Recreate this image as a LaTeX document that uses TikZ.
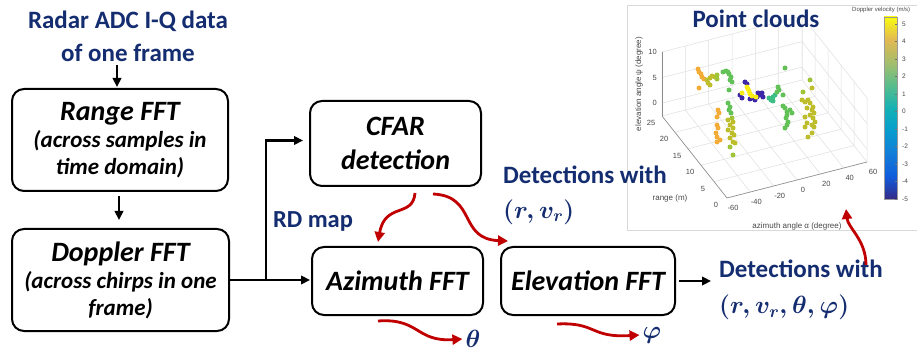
\documentclass[tikz,border=0pt]{standalone}
\usepackage{fontspec}
\setmainfont{Carlito}
\newfontfamily\plotfont{Liberation Sans}
\usetikzlibrary{arrows.meta,calc}

\definecolor{navy}{RGB}{20,44,112}
\definecolor{arrred}{RGB}{192,0,0}
\definecolor{cOr}{RGB}{243,172,56}
\definecolor{cOl}{RGB}{190,190,45}
\definecolor{cYg}{RGB}{160,196,55}
\definecolor{cGr}{RGB}{98,194,88}
\definecolor{cTe}{RGB}{60,190,132}
\definecolor{cBl}{RGB}{62,38,168}
\definecolor{cYe}{RGB}{248,236,20}

% parula-like colour map for the colour bar (path box maps to 25bp..75bp)
\pgfdeclareverticalshading{parula}{100bp}{%
  rgb(0bp)=(0.208,0.165,0.529); rgb(25bp)=(0.208,0.165,0.529);
  rgb(31.25bp)=(0.059,0.361,0.867); rgb(37.5bp)=(0.071,0.490,0.847);
  rgb(43.75bp)=(0.027,0.612,0.812); rgb(50bp)=(0.082,0.694,0.706);
  rgb(56.25bp)=(0.349,0.741,0.549); rgb(62.5bp)=(0.647,0.745,0.420);
  rgb(68.75bp)=(0.882,0.725,0.322); rgb(75bp)=(0.976,0.984,0.055);
  rgb(100bp)=(0.976,0.984,0.055)}

\begin{document}
\begin{tikzpicture}[x=1pt,y=-1pt,
  procbox/.style={draw, line width=2pt, rounded corners=12pt, align=center,
    inner sep=0pt, font=\bfseries\itshape\fontsize{23}{27}\selectfont},
  navytext/.style={text=navy, inner sep=0pt,
    font=\bfseries\boldmath\fontsize{25}{33}\selectfont},
  flow/.style={line width=2.2pt, -{Triangle[length=9pt,width=8.5pt]}},
  redflow/.style={line width=2.8pt, draw=arrred,
    -{Triangle[length=10pt,width=10pt,fill=arrred]}},
  gridline/.style={draw=black!13, line width=0.5pt},
  axisline/.style={draw=black!45, line width=0.6pt},
  tick/.style={font=\plotfont\fontsize{7.5}{9}\selectfont, text=black!72, inner sep=0pt},
  dot/.style={radius=2.5pt},
]
\useasboundingbox (0,0) rectangle (917,352);

% ---------------- point cloud plot ----------------
\begin{scope}
\clip (0,0) rectangle (917,352);
\draw[black!15, line width=0.8pt] (920,5) -- (627,5) -- (627,230) -- (920,230);

% 3D box: x = azimuth (+60 offset), y = range, z = elevation (+2.5 offset)
\begin{scope}[shift={(727,198)}, x={(1.1667pt,0.3pt)}, y={(-2.6pt,3.28pt)}, z={(0pt,5.12pt)}]
  \foreach \a in {0,20,...,120}
    \draw[gridline] (\a,0,0) -- (\a,25,0) -- (\a,25,12.5);
  \foreach \r in {0,5,...,25}
    \draw[gridline] (0,\r,0) -- (120,\r,0) -- (120,\r,12.5);
  \foreach \e in {2.5,7.5,12.5}
    \draw[gridline] (0,25,\e) -- (120,25,\e) -- (120,0,\e);
  \draw[axisline] (0,25,0) -- (0,25,12.5);
  \draw[axisline] (0,25,0) -- (0,0,0) -- (120,0,0);
  \foreach \e/\t in {2.5/0, 7.5/5, 12.5/10}
    \node[tick, anchor=east, xshift=-5pt] at (0,25,\e) {\t};
  \foreach \r in {0,5,...,25}
    \node[tick, xshift=-11pt, yshift=-7pt] at (0,\r,0) {\r};
  \foreach \a/\t in {0/-60, 20/-40, 40/-20, 60/0, 80/20, 100/40, 120/60}
    \node[tick, xshift=6pt, yshift=-10pt] at (\a,0,0) {\t};
\end{scope}

\node[tick, font=\plotfont\fontsize{8}{9}\selectfont] (rlab) at (670,198) {range (m)};
\node[tick, font=\plotfont\fontsize{8}{9}\selectfont] (alab) at (797,226) {azimuth angle α (degree)};
\node[tick, font=\plotfont\fontsize{8}{9}\selectfont, rotate=90] (elab) at (639,84) {elevation angle ψ (degree)};

% scattered detections
\foreach \px/\py/\pc in {
  698/69/cOr, 699/72/cOr, 701/74/cOr, 702/77/cOr, 704/79/cOr, 699/88/cOr,
  707/80/cOl, 708/83/cOl, 710/78/cOl, 712/76/cOl, 715/77/cOl, 717/79/cYg, 717/75/cYg, 710/85/cOl,
  723/72/cGr, 726/71/cGr, 728/72/cGr, 729/74/cGr, 731/77/cGr, 730/80/cGr, 732/82/cGr, 729/90/cGr,
  745/82/cBl, 747/84/cBl, 740/95/cBl, 742/98/cBl, 750/99/cBl, 753/98/cBl, 755/100/cBl,
  757/97/cBl, 760/95/cBl, 762/93/cBl, 763/97/cBl, 758/93/cBl,
  747/87/cYe, 748/89/cYe, 749/91/cYe, 750/94/cYe, 752/96/cYe, 756/97/cYe, 742/93/cYe,
  769/98/cTe, 771/100/cTe, 773/97/cTe, 775/95/cTe, 773/101/cTe, 777/92/cGr,
  778/87/cGr, 779/90/cGr, 783/95/cGr, 785/68/cGr,
  783/106/cGr, 785/108/cGr, 787/112/cGr, 787/115/cGr, 786/118/cGr, 788/122/cGr,
  787/125/cGr, 785/128/cGr, 790/110/cGr, 792/113/cGr,
  810/80/cYg, 812/88/cOl, 803/92/cYg, 802/100/cOl, 805/102/cOl, 808/100/cOl,
  810/103/cOl, 813/107/cOl, 807/108/cOl, 812/110/cOl, 814/113/cOl, 810/115/cOl,
  805/117/cOl, 813/118/cOl, 815/122/cOl, 807/123/cOl, 812/125/cOl, 814/127/cOl,
  805/127/cOl, 812/133/cOl, 808/137/cOl,
  718/110/cOr, 719/113/cOr, 717/117/cOr, 717/125/cOr, 718/128/cOr, 716/133/cOr,
  717/137/cOr, 717/142/cOr, 720/140/cOr,
  728/103/cGr, 730/107/cGr, 729/110/cGr, 731/113/cGr, 732/118/cYg, 728/120/cOl,
  733/122/cOl, 730/125/cOl, 733/128/cOl, 728/130/cOl, 732/133/cOl, 734/135/cOl,
  730/138/cOl, 733/142/cOl, 735/143/cOl, 730/147/cYg, 733/155/cYg}
  \fill[\pc] (\px,\py) circle[dot];

% colour bar
\path[shading=parula] (884,17) rectangle (897,199);
\draw[black!40, line width=0.4pt] (884,17) rectangle (897,199);
\foreach \v in {-5,...,5} {
  \draw[black!55, line width=0.4pt] (897,{111.5-17.5*\v}) -- (895,{111.5-17.5*\v});
  \node[tick, anchor=west, font=\plotfont\fontsize{6.5}{8}\selectfont] at (902,{111.5-17.5*\v}) {\v};
}
\node[tick, anchor=west, font=\plotfont\fontsize{6}{7}\selectfont] (cbar) at (852,10) {Doppler velocity (m/s)};
\end{scope}

\node[navytext] (title) at (756,19) {Point clouds};
\coordinate (cloudin) at (846,209);

% ---------------- processing chain ----------------
\node[navytext, align=center] (input) at (128,36) {Radar ADC I-Q data\\of one frame};

\node[procbox, minimum width=216pt, minimum height=102pt] (range) at (120,140)
  {{\fontsize{28}{30}\selectfont Range FFT}\\(across samples in\\time domain)};
\node[procbox, minimum width=217pt, minimum height=102pt] (doppler) at (120.5,280)
  {{\fontsize{28}{30}\selectfont Doppler FFT}\\(across chirps in one\\frame)};
\node[procbox, minimum width=171pt, minimum height=85pt, font=\bfseries\itshape\fontsize{28}{34}\selectfont]
  (cfar) at (395.5,143.5) {CFAR\\detection};
\node[procbox, minimum width=171pt, minimum height=68pt, font=\bfseries\itshape\fontsize{28}{34}\selectfont]
  (azim) at (397.5,281) {Azimuth FFT};
\node[procbox, minimum width=174pt, minimum height=68pt, font=\bfseries\itshape\fontsize{28}{34}\selectfont]
  (elev) at (588,281) {Elevation FFT};

\node[navytext, font=\bfseries\fontsize{24.5}{28}\selectfont] (rdmap) at (313,221) {RD map};
\node[navytext, align=left, anchor=west, font=\bfseries\boldmath\fontsize{25}{35}\selectfont]
  (det1) at (503,195) {Detections with\\$(r, v_r)$};
\node[navytext, align=left, anchor=west, font=\bfseries\boldmath\fontsize{25}{36}\selectfont]
  (det2) at (719,290) {Detections with\\$(r, v_r, \theta,\varphi)$};
\node[navytext] (theta) at (473,339) {$\theta$};
\node[navytext] (phi) at (652,335) {$\varphi$};

\coordinate (split) at (266,280);

\draw[flow, shorten <=3pt, shorten >=1pt] ([xshift=-11pt]input.south) -- ([xshift=-3pt]range.north);
\draw[flow, shorten <=4pt, shorten >=8pt] ([xshift=-1pt]range.south) -- ([xshift=-1.5pt]doppler.north);
\draw[line width=2.2pt] (doppler.east) -- (split);
\draw[flow, shorten >=6pt] (split) |- ([yshift=3pt]cfar.west);
\draw[flow, shorten >=1pt] (split) -- (split -| azim.west);
\draw[flow, shorten <=3pt, shorten >=8pt] (elev.east) -- (elev.east -| det2.west);

\draw[redflow] ($(cfar.south)+(19.5,6)$) .. controls +(-2,25) and +(7,-40) .. ($(azim.north)+(-19.5,-4)$);
\draw[redflow] ($(cfar.south)+(37.5,7)$) .. controls +(44,2) and +(-50,-2) .. ($(elev.north)+(-80,-5)$);
\draw[redflow] ($(azim.south)+(-19.5,5)$) .. controls +(42,-3) and +(-47,3) .. ([xshift=-3pt]theta.west);
\draw[redflow] ($(elev.south)+(-31,8)$) .. controls +(40,-2) and +(-50,3) .. ([xshift=-3pt]phi.west);
\draw[redflow] ($(det2.north)+(65,5)$) .. controls +(0,-25) and +(2,19) .. (cloudin);
\end{tikzpicture}
\end{document}
